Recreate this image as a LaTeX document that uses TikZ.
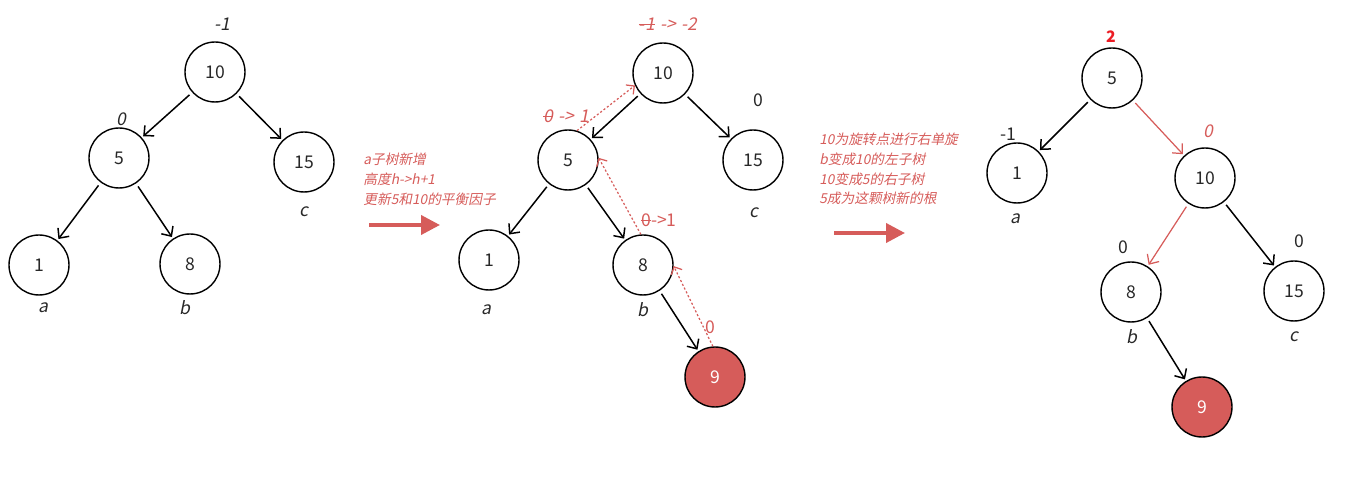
\documentclass[tikz,border=0pt]{standalone}
\usepackage{fontspec}
\setmainfont{Noto Sans CJK SC}[AutoFakeSlant=0.2]
\usetikzlibrary{arrows.meta, positioning}
\definecolor{myred}{RGB}{214, 92, 90}
\definecolor{hotred}{RGB}{236, 28, 36}
\definecolor{ink}{RGB}{40, 40, 40}
% crossed-out old balance factor
\newcommand{\oldbf}[1]{\setbox0\hbox{#1}\rlap{\raise0.3em\hbox{\vrule height 0.6pt width \wd0}}\box0}

\begin{document}
\begin{tikzpicture}[x=0.02cm, y=-0.02cm,
    avl/.style={circle, draw=black, line width=0.8pt, minimum size=1.2cm, inner sep=0pt, text=ink},
    newavl/.style={avl, fill=myred, text=white},
    edge/.style={-{Straight Barb[length=1.5mm, width=2.8mm]}, line width=0.85pt, shorten <=2pt, shorten >=1pt},
    redge/.style={edge, draw=myred, line width=0.7pt},
    back/.style={-{Straight Barb[length=1.2mm, width=2.4mm]}, draw=myred, line width=0.7pt, dash pattern=on 1.2pt off 1.2pt},
    sub/.style={font=\itshape, text=ink},
    bal/.style={text=ink},
    rbal/.style={font=\itshape, text=myred},
    note/.style={font=\fontsize{7.8}{11.2}\selectfont\itshape, text=myred, align=left, anchor=north west, inner sep=0pt},
    bigarrow/.style={-{Triangle[length=0.38cm, width=0.38cm]}, draw=myred, line width=2.2pt}]

    % page
    \useasboundingbox (0,0) rectangle (1356,499);

    % Left tree: before insertion
    \node[avl] (l10) at (215,72) {10};
    \node[avl] (l5) at (119,158) {5};
    \node[avl] (l15) at (304,162) {15};
    \node[avl] (l1) at (39,265) {1};
    \node[avl] (l8) at (190,264) {8};
    \draw[edge] (l10) -- (l5);
    \draw[edge] (l10) -- (l15);
    \draw[edge] (l5) -- (l1);
    \draw[edge] (l5) -- (l8);
    \node[rbal, text=ink] (lb10) at (222,24) {-1};
    \node[rbal, text=ink] (lb5) at (121,119) {0};
    \node[sub] (la) at (43,308) {a};
    \node[sub] (lb) at (185,308) {b};
    \node[sub] (lc) at (304,212) {c};

    % Step 1
    \node[note] (n1) at (363,153) {a子树新增\\高度h->h+1\\更新5和10的平衡因子};
    \coordinate (s1) at (369,225);
    \coordinate (e1) at (440,225);
    \draw[bigarrow] (s1) -- (e1);

    % Middle tree: 9 inserted
    \node[avl] (m10) at (663,73) {10};
    \node[avl] (m5) at (568,160) {5};
    \node[avl] (m15) at (753,160) {15};
    \node[avl] (m1) at (489,260) {1};
    \node[avl] (m8) at (643,265) {8};
    \node[newavl] (m9) at (715,377) {9};
    \draw[edge] (m10) -- (m5);
    \draw[edge] (m10) -- (m15);
    \draw[edge] (m5) -- (m1);
    \draw[edge] (m5) -- (m8);
    \draw[edge] (m8) -- (m9);
    % going back up
    \draw[back] (m9.94) -- (m8.358);
    \draw[back] (m8.94) -- (m5.4);
    \draw[back] (m5.73) -- (m10.204);
    \node[rbal] (mb10) at (668,24) {\oldbf{-1}\hspace{0.3em}->\hspace{0.3em}-2};
    \node[rbal] (mb5) at (566,116) {\oldbf{0}\hspace{0.3em}->\hspace{0.3em}1};
    \node[rbal, font=\upshape] (mb8) at (659,220) {\oldbf{0}->1};
    \node[rbal, font=\upshape] (mb9) at (710,327) {0};
    \node[bal] (mb15) at (758,100) {0};
    \node[sub] (ma) at (486,310) {a};
    \node[sub] (mb) at (643,310) {b};
    \node[sub] (mc) at (754,213) {c};

    % Step 2
    \node[note] (n2) at (819,133) {10为旋转点进行右单旋\\b变成10的左子树\\10变成5的右子树\\5成为这颗树新的根};
    \coordinate (s2) at (834,233);
    \coordinate (e2) at (905,233);
    \draw[bigarrow] (s2) -- (e2);

    % Right tree: after right rotation
    \node[avl] (r5) at (1112,78) {5};
    \node[avl] (r1) at (1017,173) {1};
    \node[avl] (r10) at (1205,178) {10};
    \node[avl] (r8) at (1131,292) {8};
    \node[avl] (r15) at (1294,291) {15};
    \node[newavl] (r9) at (1202,407) {9};
    \draw[edge] (r5) -- (r1);
    \draw[redge] (r5) -- (r10);
    \draw[redge] (r10) -- (r8);
    \draw[edge] (r10) -- (r15);
    \draw[edge] (r8) -- (r9);
    \node[text=hotred, font=\small\bfseries] (rb5) at (1111,37) {2};
    \node[bal] (rb1) at (1008,134) {-1};
    \node[rbal] (rb10) at (1208,131) {0};
    \node[bal] (rb8) at (1123,247) {0};
    \node[bal] (rb15) at (1299,241) {0};
    \node[sub] (ra) at (1015,219) {a};
    \node[sub] (rb) at (1132,337) {b};
    \node[sub] (rc) at (1294,337) {c};
\end{tikzpicture}
\end{document}
